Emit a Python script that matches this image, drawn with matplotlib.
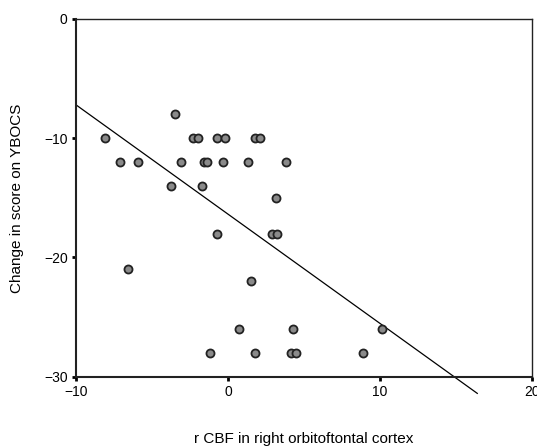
import matplotlib
matplotlib.use("Agg")
import matplotlib.pyplot as plt

plt.rcParams['font.family'] = ['Liberation Sans', 'DejaVu Sans']

x_vals = [-8.1, -7.1, -5.9, -6.6, -3.75, -3.5, -3.1, -2.3, -1.95, -1.7, -1.6, -1.35,
          -0.75, -0.2, -0.3, -0.75, -1.2, 0.7, 1.3, 1.5, 1.8, 1.8, 2.1, 3.15, 2.9, 3.25,
          3.8, 4.3, 4.15, 4.45, 8.9, 10.1]
y_vals = [-10, -12, -12, -21, -14, -8, -12, -10, -10, -14, -12, -12,
          -10, -10, -12, -18, -28, -26, -12, -22, -28, -10, -10, -15, -18, -18,
          -12, -26, -28, -28, -28, -26]

line_x = [-10, 16.4]
line_y = [-7.2, -31.4]

x_ticks = [-10, 0, 10, 20]
y_ticks = [-30, -20, -10, 0]

fig = plt.figure(figsize=(5.37, 4.47), dpi=100)
ax = fig.add_axes([0.1415, 0.1573, 0.8492, 0.8002])

ax.plot(line_x, line_y, color='black', lw=0.9, clip_on=False, zorder=2)
ax.plot(x_vals, y_vals, 'o', ms=5.8, mfc='#8a8a8a', mec='#222222', mew=1.3, zorder=3)

ax.set_xlim(-10, 20)
ax.set_ylim(-30, 0)
ax.set_xticks(x_ticks)
ax.set_yticks(y_ticks)
ax.set_xticklabels([str(t).replace('-', '\u2212') for t in x_ticks])
ax.set_yticklabels([str(t).replace('-', '\u2212') for t in y_ticks])
ax.tick_params(direction='out', length=3, width=2, labelsize=10, pad=3)
for s in ax.spines.values():
    s.set_linewidth(1.0)
    s.set_color('#222222')
ax.spines['left'].set_linewidth(1.5)
ax.spines['bottom'].set_linewidth(1.5)

ax.set_xlabel('r CBF in right orbitoftontal cortex', fontsize=11, labelpad=24)
ax.set_ylabel('Change in score on YBOCS', fontsize=11, labelpad=14)

fig.savefig('out.png', dpi=100)
